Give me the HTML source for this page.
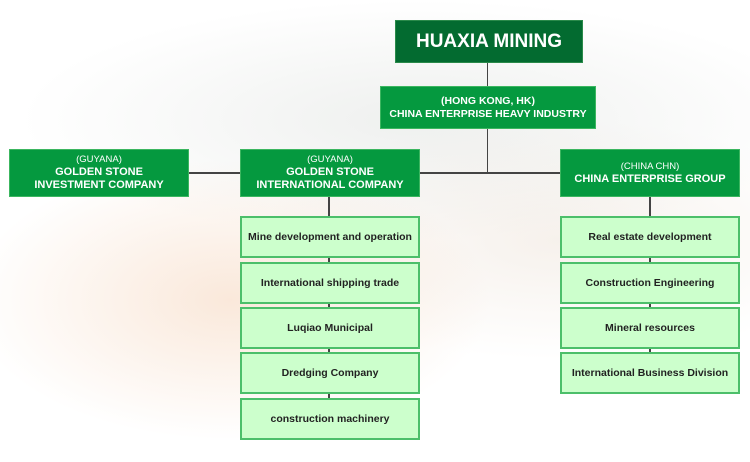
<!DOCTYPE html>
<html><head><style>
body{margin:0;width:750px;height:462px;position:relative;overflow:hidden;font-family:"Liberation Sans",sans-serif;
background:radial-gradient(ellipse 260px 140px at 230px 300px,rgba(240,190,150,.35),transparent),radial-gradient(ellipse 300px 120px at 560px 240px,rgba(230,215,200,.35),transparent),radial-gradient(ellipse 400px 120px at 420px 120px,rgba(200,205,200,.3),transparent),#fff;}
.b{position:absolute;box-sizing:border-box;display:flex;flex-direction:column;align-items:center;justify-content:center;text-align:center;color:#fff;font-weight:bold;background:#05993f;border:1px solid #3cb660;font-size:11px;line-height:13px}
.b small{font-weight:normal;font-size:9.5px;line-height:12px}
.s{position:absolute;box-sizing:border-box;background:#ccffcc;border:2px solid #4cbf6a;display:flex;align-items:center;justify-content:center;font-weight:bold;font-size:10.5px;color:#222}
.l{position:absolute;background:#444}
</style></head><body>
<div class="l" style="left:487px;top:63px;width:1px;height:24px"></div>
<div class="l" style="left:487px;top:129px;width:1px;height:44px"></div>
<div class="l" style="left:189px;top:172px;width:371px;height:1.5px"></div>
<div class="l" style="left:328px;top:197px;width:2px;height:240px"></div>
<div class="l" style="left:649px;top:197px;width:2px;height:195px"></div>
<div class="b" style="left:395px;top:20px;width:188px;height:43px;background:#036b30;font-size:19px;border-color:#2a8a4a">HUAXIA MINING</div>
<div class="b" style="left:380px;top:86px;width:216px;height:43px;font-size:10.5px"><span>(HONG KONG, HK)</span><span>CHINA ENTERPRISE HEAVY INDUSTRY</span></div>
<div class="b" style="left:9px;top:149px;width:180px;height:48px"><small>(GUYANA)</small><span>GOLDEN STONE</span><span>INVESTMENT COMPANY</span></div>
<div class="b" style="left:240px;top:149px;width:180px;height:48px"><small>(GUYANA)</small><span>GOLDEN STONE</span><span>INTERNATIONAL COMPANY</span></div>
<div class="b" style="left:560px;top:149px;width:180px;height:48px"><small>(CHINA CHN)</small><span>CHINA ENTERPRISE GROUP</span></div>
<div class="s" style="left:240px;top:216px;width:180px;height:42px">Mine development and operation</div>
<div class="s" style="left:240px;top:262px;width:180px;height:42px">International shipping trade</div>
<div class="s" style="left:240px;top:307px;width:180px;height:42px">Luqiao Municipal</div>
<div class="s" style="left:240px;top:352px;width:180px;height:42px">Dredging Company</div>
<div class="s" style="left:240px;top:398px;width:180px;height:42px">construction machinery</div>
<div class="s" style="left:560px;top:216px;width:180px;height:42px">Real estate development</div>
<div class="s" style="left:560px;top:262px;width:180px;height:42px">Construction Engineering</div>
<div class="s" style="left:560px;top:307px;width:180px;height:42px">Mineral resources</div>
<div class="s" style="left:560px;top:352px;width:180px;height:42px">International Business Division</div>
</body></html>
